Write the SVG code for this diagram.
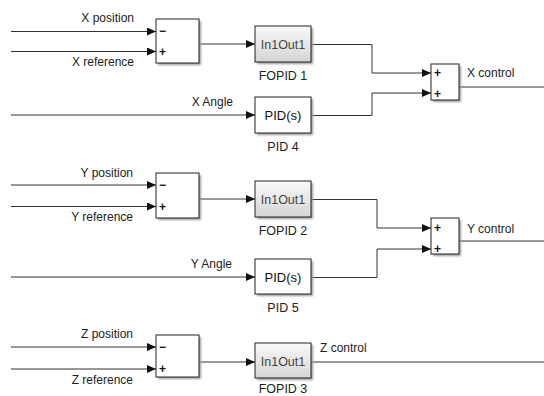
<svg xmlns="http://www.w3.org/2000/svg" width="544" height="396" viewBox="0 0 544 396">
<style>
text{font-family:"Liberation Sans",Arial,sans-serif;font-size:12px;fill:#222}
.lbl{text-anchor:middle;font-size:12.5px}
.sgn{font-size:12px;font-weight:bold;fill:#111}
.w{fill:none;stroke:#333;stroke-width:1}
.blk{fill:#fff;stroke:#222;stroke-width:1}
.fo{fill:url(#g);stroke:#222;stroke-width:1}
.sh{fill:#9a9a9a;filter:url(#b)}
.in{font-size:12.5px;fill:#444;text-anchor:middle}
.pid{font-size:13px;fill:#111;text-anchor:middle}
</style>
<defs>
<linearGradient id="g" x1="0" y1="0" x2="0" y2="1"><stop offset="0" stop-color="#fafafa"/><stop offset="1" stop-color="#d4d4d4"/></linearGradient>
<filter id="b" x="-20%" y="-20%" width="140%" height="140%"><feGaussianBlur stdDeviation="1"/></filter>
<marker id="a" markerWidth="9" markerHeight="8" refX="9" refY="4" orient="auto" markerUnits="userSpaceOnUse"><path d="M0,0 L9,4 L0,8 Z" fill="#111"/></marker>
</defs>

<g id="connectors">
<path class="w" d="M11,31.5 H156" marker-end="url(#a)"/>
<path class="w" d="M11,51.5 H156" marker-end="url(#a)"/>
<path class="w" d="M199,44 H255" marker-end="url(#a)"/>
<path class="w" d="M11,115 H255" marker-end="url(#a)"/>
<path class="w" d="M311,44.5 H372 V73 H431" marker-end="url(#a)"/>
<path class="w" d="M311,115.5 H372 V93 H431" marker-end="url(#a)"/>
<path class="w" d="M459,87 H544"/>

<path class="w" d="M11,185 H156" marker-end="url(#a)"/>
<path class="w" d="M11,206.5 H156" marker-end="url(#a)"/>
<path class="w" d="M199,199 H255" marker-end="url(#a)"/>
<path class="w" d="M11,277 H255" marker-end="url(#a)"/>
<path class="w" d="M311,199.5 H377 V228 H431" marker-end="url(#a)"/>
<path class="w" d="M311,277.5 H377 V249 H431" marker-end="url(#a)"/>
<path class="w" d="M459,241 H544"/>

<path class="w" d="M11,347 H156" marker-end="url(#a)"/>
<path class="w" d="M11,369 H156" marker-end="url(#a)"/>
<path class="w" d="M199,362 H255" marker-end="url(#a)"/>
<path class="w" d="M311,362 H544"/>

<text x="134" y="22" text-anchor="end">X position</text>
<text x="134" y="66" text-anchor="end">X reference</text>
<text x="233" y="106" text-anchor="end">X Angle</text>
<text x="467" y="77">X control</text>
<text x="133" y="177" text-anchor="end">Y position</text>
<text x="133" y="221" text-anchor="end">Y reference</text>
<text x="232" y="268" text-anchor="end">Y Angle</text>
<text x="467" y="233">Y control</text>
<text x="133" y="338" text-anchor="end">Z position</text>
<text x="133" y="384" text-anchor="end">Z reference</text>
<text x="320" y="352">Z control</text>
</g>

<g id="sumX1">
<rect class="sh" x="158" y="21" width="43" height="44"/>
<rect class="blk" x="156" y="19" width="43" height="44"/>
<text class="sgn" x="159" y="35">−</text>
<text class="sgn" x="159" y="56">+</text>
</g>
<g id="fopid1">
<rect class="sh" x="257" y="28" width="56" height="36"/>
<rect class="fo" x="255" y="26" width="56" height="36"/>
<text class="in" x="283" y="49">In1Out1</text>
<text class="lbl" x="283" y="80">FOPID 1</text>
</g>
<g id="pid4">
<rect class="sh" x="257" y="99" width="56" height="36"/>
<rect class="blk" x="255" y="97" width="56" height="36"/>
<text class="pid" x="283" y="120">PID(s)</text>
<text class="lbl" x="283" y="151">PID 4</text>
</g>
<g id="sumX2">
<rect class="sh" x="433" y="66" width="28" height="36"/>
<rect class="blk" x="431" y="64" width="28" height="36"/>
<text class="sgn" x="434" y="77">+</text>
<text class="sgn" x="434" y="98">+</text>
</g>

<g id="sumY1">
<rect class="sh" x="158" y="175" width="43" height="45"/>
<rect class="blk" x="156" y="173" width="43" height="45"/>
<text class="sgn" x="159" y="189">−</text>
<text class="sgn" x="159" y="211">+</text>
</g>
<g id="fopid2">
<rect class="sh" x="257" y="183" width="56" height="36"/>
<rect class="fo" x="255" y="181" width="56" height="36"/>
<text class="in" x="283" y="204">In1Out1</text>
<text class="lbl" x="283" y="235">FOPID 2</text>
</g>
<g id="pid5">
<rect class="sh" x="257" y="261" width="56" height="35"/>
<rect class="blk" x="255" y="259" width="56" height="35"/>
<text class="pid" x="283" y="282">PID(s)</text>
<text class="lbl" x="283" y="312">PID 5</text>
</g>
<g id="sumY2">
<rect class="sh" x="433" y="220" width="28" height="36"/>
<rect class="blk" x="431" y="218" width="28" height="36"/>
<text class="sgn" x="434" y="232">+</text>
<text class="sgn" x="434" y="253">+</text>
</g>

<g id="sumZ1">
<rect class="sh" x="158" y="337" width="43" height="42"/>
<rect class="blk" x="156" y="335" width="43" height="42"/>
<text class="sgn" x="159" y="351">−</text>
<text class="sgn" x="159" y="373">+</text>
</g>
<g id="fopid3">
<rect class="sh" x="257" y="345" width="56" height="35"/>
<rect class="fo" x="255" y="343" width="56" height="35"/>
<text class="in" x="283" y="366">In1Out1</text>
<text class="lbl" x="283" y="393">FOPID 3</text>
</g>
</svg>
